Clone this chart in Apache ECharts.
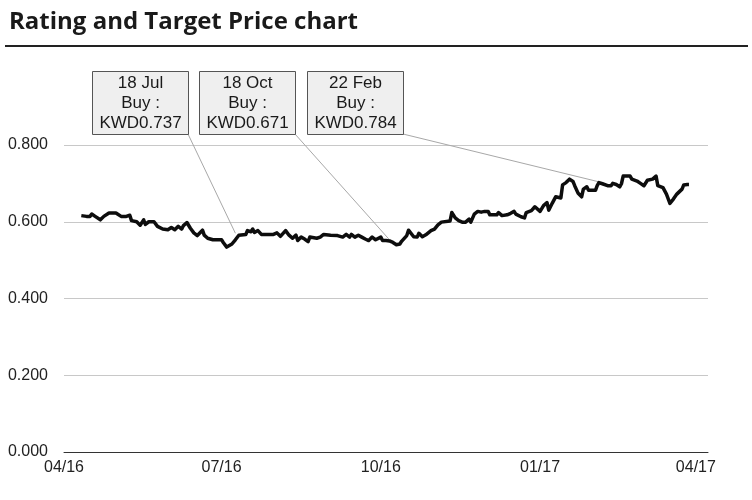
<!DOCTYPE html>
<html>
<head>
<meta charset="utf-8">
<script src="https://cdn.jsdelivr.net/npm/echarts@6/dist/echarts.min.js"></script>
<style>
  html, body { margin: 0; padding: 0; background: #fff; }
  #chart { width: 752px; height: 500px; }
</style>
</head>
<body>
<div id="chart"></div>
<script>
// days counted from 2016-04-01
const dayOffsets = [
  10, 11, 13, 14, 15, 16, 18, 19, 21, 23, 26, 30, 33, 36, 38, 39, 42, 44, 46, 47,
  49, 52, 54, 57, 58, 60, 62, 64, 66, 68, 69, 71, 73, 75, 77, 78, 80, 81, 83, 86,
  91, 92, 94, 97, 99, 101, 102, 105, 106, 108, 109, 110, 112, 114, 117, 118, 121, 122, 123, 125,
  126, 128, 130, 131, 132, 134, 135, 137, 139, 141, 142, 143, 146, 148, 150, 154, 158, 161, 163, 165,
  166, 168, 170, 172, 174, 176, 178, 180, 183, 184, 186, 188, 190, 192, 194, 195, 196, 198, 199, 200,
  202, 204, 205, 207, 209, 210, 212, 214, 216, 218, 219, 223, 224, 226, 228, 230, 232, 234, 235, 237,
  239, 241, 243, 245, 246, 250, 251, 253, 256, 258, 260, 261, 264, 266, 267, 270, 272, 273, 275, 277,
  279, 280, 282, 284, 287, 288, 290, 292, 294, 295, 297, 299, 300, 302, 303, 307, 308, 309, 311, 312,
  314, 316, 317, 319, 321, 322, 323, 327, 328, 331, 333, 335, 336, 337, 340, 342, 343, 344, 346, 348,
  350, 352, 354, 355, 357, 358, 360, 361
];
const closePrice = [
  0.616, 0.620, 0.614, 0.618, 0.614, 0.620, 0.614, 0.618, 0.605, 0.614, 0.623, 0.623, 0.614, 0.614, 0.617, 0.603, 0.600, 0.591, 0.605, 0.593,
  0.600, 0.600, 0.588, 0.581, 0.585, 0.579, 0.585, 0.579, 0.588, 0.581, 0.590, 0.598, 0.583, 0.571, 0.564, 0.566, 0.578, 0.565, 0.557, 0.553,
  0.553, 0.546, 0.534, 0.542, 0.553, 0.565, 0.567, 0.567, 0.577, 0.574, 0.581, 0.572, 0.577, 0.567, 0.567, 0.562, 0.567, 0.562, 0.571, 0.562,
  0.566, 0.577, 0.565, 0.560, 0.557, 0.565, 0.551, 0.560, 0.555, 0.548, 0.560, 0.555, 0.557, 0.560, 0.567, 0.565, 0.564, 0.560, 0.567, 0.560,
  0.567, 0.560, 0.565, 0.560, 0.555, 0.551, 0.560, 0.553, 0.560, 0.551, 0.551, 0.550, 0.546, 0.540, 0.542, 0.549, 0.546, 0.564, 0.578, 0.574,
  0.561, 0.560, 0.570, 0.561, 0.566, 0.568, 0.577, 0.581, 0.592, 0.599, 0.602, 0.602, 0.624, 0.610, 0.603, 0.599, 0.599, 0.607, 0.599, 0.620,
  0.627, 0.625, 0.627, 0.627, 0.618, 0.618, 0.624, 0.616, 0.618, 0.622, 0.627, 0.620, 0.613, 0.610, 0.624, 0.629, 0.639, 0.634, 0.627, 0.642,
  0.650, 0.630, 0.648, 0.665, 0.662, 0.696, 0.702, 0.711, 0.705, 0.694, 0.674, 0.665, 0.685, 0.691, 0.682, 0.682, 0.694, 0.702, 0.699, 0.694,
  0.694, 0.694, 0.700, 0.697, 0.691, 0.699, 0.719, 0.719, 0.711, 0.706, 0.700, 0.694, 0.694, 0.708, 0.711, 0.719, 0.694, 0.697, 0.689, 0.672,
  0.648, 0.659, 0.672, 0.676, 0.685, 0.696, 0.697, 0.697
];

const tickDays = [0, 91, 183, 275, 365];
const tickLabels = ["04/16", "07/16", "10/16", "01/17", "04/17"];

// rating changes: date, rating, target, and where the leader meets the line
const ratingDates = ["18 Jul", "18 Oct", "22 Feb"];
const ratingCalls = ["Buy", "Buy", "Buy"];
const ratingTargets = [0.737, 0.671, 0.784];
const ratingAnchorDay = [99, 190, 309];
const ratingAnchorPrice = [0.57, 0.543, 0.704];

const font = "'Liberation Sans', Arial, sans-serif";
const chart = echarts.init(document.getElementById("chart"), null, { renderer: "canvas" });

chart.setOption({
  animation: false,
  backgroundColor: "#fff",
  title: {
    text: "Rating and Target Price chart",
    left: 4,
    top: 5,
    textStyle: {
      fontFamily: "'Liberation Sans Narrow', 'Open Sans', sans-serif",
      fontSize: 24,
      fontWeight: "bold",
      color: "#1a1a1a"
    }
  },
  grid: { left: 64, right: 44, top: 145, bottom: 48, containLabel: false },
  xAxis: {
    type: "value",
    min: 0,
    max: 372,
    axisLine: { show: true, lineStyle: { color: "#333", width: 1 } },
    axisTick: { show: false },
    splitLine: { show: false },
    axisLabel: {
      customValues: tickDays,
      formatter: (v) => tickLabels[tickDays.indexOf(v)] || "",
      color: "#222",
      fontFamily: font,
      fontSize: 16,
      margin: 8
    }
  },
  yAxis: {
    type: "value",
    min: 0,
    max: 0.8,
    interval: 0.2,
    axisLine: { show: false },
    axisTick: { show: false },
    splitLine: { lineStyle: { color: "#c8c8c8", width: 1 } },
    axisLabel: {
      formatter: (v) => v.toFixed(3),
      color: "#222",
      fontFamily: font,
      fontSize: 16,
      margin: 16
    }
  },
  series: [
    {
      type: "line",
      data: dayOffsets.map((d, i) => [d, closePrice[i]]),
      symbol: "none",
      lineStyle: { color: "#0d0d0d", width: 3.5, join: "round" },
      z: 3
    }
  ]
});

// annotation boxes sit in a row above the plot, leaders run to the line
const boxLeft = [92, 199, 307];
const boxTop = 71;
const boxW = 96;
const boxH = 63;
const graphics = [
  { type: "line", shape: { x1: 5, y1: 46, x2: 748, y2: 46 }, style: { stroke: "#222", lineWidth: 2 } }
];
ratingDates.forEach((d, i) => {
  const p = chart.convertToPixel({ gridIndex: 0 }, [ratingAnchorDay[i], ratingAnchorPrice[i]]);
  const x0 = boxLeft[i];
  graphics.push({
    type: "line",
    shape: { x1: x0 + boxW, y1: boxTop + boxH, x2: p[0], y2: p[1] },
    style: { stroke: "#a8a8a8", lineWidth: 1 },
    z: 1
  });
  graphics.push({
    type: "rect",
    shape: { x: x0 + 0.5, y: boxTop + 0.5, width: boxW, height: boxH },
    style: { fill: "#efefef", stroke: "#555", lineWidth: 1 },
    z: 5
  });
  graphics.push({
    type: "text",
    x: x0 + boxW / 2 + 0.5,
    y: boxTop + boxH / 2 + 1,
    style: {
      text: d + "\n" + ratingCalls[i] + " :\nKWD" + ratingTargets[i].toFixed(3),
      fill: "#1a1a1a",
      font: "17px " + font,
      align: "center",
      verticalAlign: "middle",
      lineHeight: 20
    },
    z: 6
  });
});
chart.setOption({ graphic: graphics });
</script>
</body>
</html>
